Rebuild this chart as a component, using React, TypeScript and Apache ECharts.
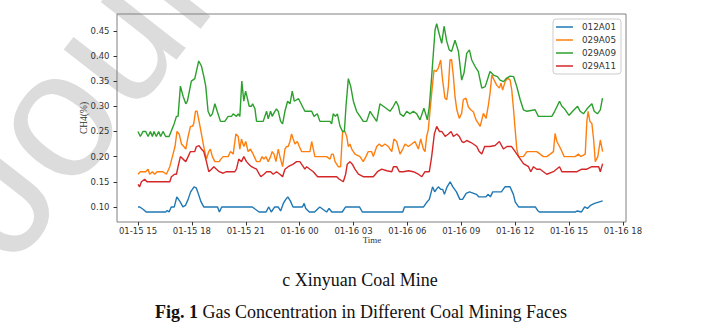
import React, { useEffect, useRef } from 'react';
import * as echarts from 'echarts';

// Hours counted from 01-15 00:00
const X_TICKS = [15, 18, 21, 24, 27, 30, 33, 36, 39, 42];
const X_TICK_LABELS = ['01-15 15', '01-15 18', '01-15 21', '01-16 00', '01-16 03', '01-16 06', '01-16 09', '01-16 12', '01-16 15', '01-16 18'];
const Y_TICKS = [0.1, 0.15, 0.2, 0.25, 0.3, 0.35, 0.4, 0.45];
const SERIES_NAMES = ['012A01', '029A05', '029A09', '029A11'];
const COLORS = ['#1f77b4', '#ff7f0e', '#2ca02c', '#d62728'];

const S_012A01: [number, number][] = [
  [15.0, 0.1], [15.1, 0.1], [15.3, 0.095], [15.45, 0.09], [16.54, 0.09], [16.63, 0.093], [16.73, 0.09], [16.85, 0.1], [17.02, 0.1],
  [17.16, 0.12], [17.35, 0.11], [17.5, 0.1], [17.64, 0.103], [17.79, 0.115], [17.93, 0.13], [18.12, 0.14], [18.24, 0.138], [18.37, 0.125],
  [18.51, 0.11], [18.66, 0.1], [19.43, 0.1], [19.53, 0.09], [19.66, 0.1], [21.36, 0.1], [21.74, 0.09], [22.13, 0.09], [22.28, 0.1],
  [22.42, 0.09], [22.61, 0.1], [22.8, 0.1], [22.94, 0.092], [23.09, 0.107], [23.23, 0.115], [23.34, 0.12], [23.48, 0.112], [23.63, 0.1],
  [24.15, 0.1], [24.25, 0.107], [24.34, 0.097], [24.54, 0.09], [24.83, 0.09], [25.12, 0.1], [25.31, 0.095], [25.5, 0.09], [25.64, 0.097],
  [25.79, 0.09], [26.37, 0.09], [26.56, 0.1], [27.33, 0.1], [27.49, 0.09], [29.74, 0.09], [29.84, 0.1], [30.9, 0.1], [31.09, 0.11],
  [31.22, 0.115], [31.4, 0.14], [31.52, 0.13], [31.61, 0.135], [31.72, 0.14], [31.85, 0.135], [31.96, 0.135], [32.06, 0.125], [32.21, 0.14],
  [32.38, 0.15], [32.53, 0.14], [32.73, 0.13], [32.92, 0.115], [33.07, 0.115], [33.27, 0.127], [33.46, 0.13], [33.84, 0.125], [33.98, 0.12],
  [34.36, 0.12], [34.5, 0.125], [34.62, 0.12], [34.75, 0.13], [35.23, 0.13], [35.43, 0.14], [35.71, 0.14], [35.9, 0.125], [36.0, 0.11],
  [36.19, 0.1], [37.12, 0.1], [37.25, 0.093], [37.35, 0.09], [39.36, 0.09], [39.46, 0.092], [39.69, 0.09], [39.87, 0.1], [40.02, 0.097],
  [40.19, 0.103], [40.42, 0.107], [40.69, 0.11], [40.87, 0.112],
];

const S_029A05: [number, number][] = [
  [15.0, 0.165], [15.13, 0.17], [15.43, 0.17], [15.56, 0.175], [15.65, 0.165], [15.8, 0.17], [15.93, 0.165], [16.06, 0.17], [16.39, 0.17],
  [16.58, 0.165], [16.77, 0.18], [16.95, 0.205], [17.06, 0.22], [17.17, 0.25], [17.29, 0.245], [17.42, 0.225], [17.55, 0.22], [17.66, 0.215],
  [17.79, 0.24], [17.92, 0.26], [18.03, 0.26], [18.1, 0.265], [18.2, 0.29], [18.29, 0.29], [18.4, 0.27], [18.53, 0.245], [18.66, 0.22],
  [18.81, 0.195], [18.94, 0.21], [19.03, 0.215], [19.14, 0.2], [19.28, 0.19], [19.52, 0.19], [19.61, 0.195], [19.74, 0.2], [20.02, 0.2],
  [20.15, 0.21], [20.3, 0.205], [20.45, 0.245], [20.58, 0.24], [20.67, 0.215], [20.76, 0.235], [20.89, 0.22], [21.0, 0.23], [21.13, 0.21],
  [21.26, 0.215], [21.41, 0.205], [21.6, 0.19], [21.78, 0.19], [21.91, 0.2], [22.01, 0.195], [22.12, 0.2], [22.25, 0.19], [22.38, 0.2],
  [22.47, 0.21], [22.57, 0.205], [22.68, 0.19], [22.81, 0.215], [22.9, 0.2], [23.05, 0.18], [23.18, 0.215], [23.27, 0.22], [23.36, 0.22],
  [23.46, 0.23], [23.55, 0.245], [23.64, 0.235], [23.74, 0.225], [23.87, 0.23], [23.98, 0.22], [24.11, 0.21], [24.39, 0.21], [24.57, 0.21],
  [24.67, 0.23], [24.76, 0.215], [24.85, 0.2], [25.13, 0.2], [25.5, 0.2], [25.69, 0.195], [25.78, 0.205], [25.87, 0.205], [25.97, 0.19],
  [26.06, 0.185], [26.15, 0.18], [26.28, 0.18], [26.39, 0.25], [26.52, 0.25], [26.62, 0.24], [26.71, 0.22], [26.8, 0.225], [26.9, 0.215],
  [27.08, 0.205], [27.36, 0.2], [27.54, 0.19], [27.69, 0.2], [27.82, 0.21], [28.0, 0.21], [28.1, 0.2], [28.29, 0.22], [28.43, 0.225],
  [28.57, 0.22], [28.75, 0.225], [28.94, 0.22], [29.13, 0.21], [29.25, 0.235], [29.4, 0.23], [29.59, 0.205], [29.74, 0.215], [29.87, 0.225],
  [30.05, 0.22], [30.24, 0.225], [30.42, 0.23], [30.61, 0.215], [30.74, 0.235], [30.89, 0.215], [30.98, 0.21], [31.07, 0.24], [31.16, 0.253],
  [31.35, 0.326], [31.48, 0.372], [31.59, 0.369], [31.72, 0.376], [31.85, 0.392], [31.96, 0.352], [32.09, 0.316], [32.19, 0.313], [32.28, 0.339],
  [32.37, 0.392], [32.46, 0.393], [32.56, 0.359], [32.65, 0.319], [32.75, 0.293], [32.89, 0.276], [33.02, 0.286], [33.11, 0.313], [33.26, 0.316],
  [33.39, 0.299], [33.52, 0.293], [33.67, 0.289], [33.82, 0.273], [33.95, 0.266], [34.05, 0.26], [34.23, 0.286], [34.38, 0.276], [34.51, 0.303],
  [34.6, 0.326], [34.7, 0.362], [34.83, 0.352], [34.97, 0.342], [35.12, 0.336], [35.21, 0.346], [35.3, 0.332], [35.44, 0.349], [35.57, 0.356],
  [35.72, 0.352], [35.81, 0.332], [35.91, 0.293], [36.0, 0.253], [36.09, 0.215], [36.19, 0.2], [36.46, 0.2], [36.65, 0.21], [36.93, 0.21],
  [37.2, 0.21], [37.39, 0.205], [37.57, 0.2], [37.76, 0.2], [37.95, 0.205], [38.13, 0.21], [38.22, 0.246], [38.32, 0.23], [38.47, 0.22],
  [38.6, 0.21], [38.73, 0.2], [39.06, 0.2], [39.34, 0.2], [39.52, 0.205], [39.65, 0.2], [39.9, 0.205], [39.99, 0.27], [40.06, 0.29],
  [40.16, 0.27], [40.27, 0.266], [40.37, 0.233], [40.46, 0.19], [40.6, 0.2], [40.74, 0.233], [40.87, 0.21],
];

const S_029A09: [number, number][] = [
  [15.0, 0.25], [15.13, 0.24], [15.28, 0.25], [15.43, 0.25], [15.56, 0.24], [15.69, 0.25], [15.8, 0.24], [15.89, 0.25], [16.02, 0.24],
  [16.15, 0.25], [16.26, 0.24], [16.39, 0.25], [16.54, 0.24], [16.73, 0.24], [17.01, 0.265], [17.14, 0.28], [17.23, 0.28], [17.36, 0.34],
  [17.51, 0.32], [17.66, 0.305], [17.75, 0.31], [17.97, 0.35], [18.16, 0.355], [18.38, 0.39], [18.53, 0.38], [18.66, 0.36], [18.77, 0.34],
  [18.9, 0.29], [19.03, 0.28], [19.14, 0.285], [19.28, 0.305], [19.41, 0.29], [19.59, 0.27], [19.83, 0.27], [20.02, 0.28], [20.2, 0.28],
  [20.3, 0.285], [20.48, 0.28], [20.58, 0.285], [20.67, 0.28], [20.78, 0.35], [20.89, 0.31], [20.99, 0.33], [21.06, 0.32], [21.19, 0.3],
  [21.32, 0.3], [21.38, 0.305], [21.51, 0.295], [21.6, 0.27], [21.97, 0.27], [22.16, 0.29], [22.25, 0.275], [22.38, 0.29], [22.47, 0.28],
  [22.62, 0.29], [22.71, 0.295], [22.81, 0.29], [22.94, 0.27], [23.05, 0.265], [23.18, 0.29], [23.33, 0.31], [23.46, 0.305], [23.59, 0.33],
  [23.7, 0.31], [23.94, 0.315], [24.01, 0.31], [24.29, 0.29], [24.67, 0.29], [24.8, 0.28], [24.98, 0.285], [25.13, 0.27], [25.69, 0.27],
  [25.78, 0.265], [25.87, 0.285], [25.99, 0.28], [26.1, 0.285], [26.25, 0.26], [26.39, 0.25], [26.49, 0.25], [26.58, 0.3], [26.71, 0.355],
  [26.84, 0.34], [26.99, 0.31], [27.17, 0.29], [27.36, 0.28], [27.54, 0.27], [27.73, 0.27], [27.92, 0.29], [28.1, 0.28], [28.29, 0.27],
  [28.47, 0.305], [28.66, 0.3], [28.85, 0.295], [29.03, 0.29], [29.22, 0.3], [29.37, 0.31], [29.5, 0.3], [29.59, 0.285], [29.78, 0.28],
  [29.96, 0.29], [30.15, 0.285], [30.33, 0.29], [30.52, 0.285], [30.7, 0.273], [30.92, 0.296], [31.11, 0.273], [31.22, 0.3], [31.35, 0.359],
  [31.54, 0.452], [31.63, 0.464], [31.78, 0.442], [31.91, 0.425], [32.04, 0.459], [32.19, 0.429], [32.33, 0.412], [32.46, 0.409], [32.65, 0.431],
  [32.84, 0.409], [33.02, 0.352], [33.15, 0.366], [33.3, 0.405], [33.45, 0.412], [33.58, 0.392], [33.77, 0.379], [33.95, 0.369], [34.14, 0.336],
  [34.33, 0.339], [34.51, 0.359], [34.6, 0.369], [34.79, 0.362], [35.01, 0.359], [35.16, 0.352], [35.35, 0.349], [35.53, 0.356], [35.72, 0.36],
  [35.91, 0.359], [36.09, 0.339], [36.28, 0.313], [36.46, 0.293], [36.65, 0.29], [37.11, 0.293], [37.29, 0.28], [38.04, 0.28], [38.2, 0.29],
  [38.47, 0.31], [38.6, 0.3], [38.75, 0.295], [39.0, 0.282], [39.2, 0.29], [39.47, 0.3], [39.62, 0.29], [39.8, 0.285], [40.0, 0.295],
  [40.27, 0.305], [40.4, 0.29], [40.58, 0.285], [40.74, 0.293], [40.86, 0.316],
];

const S_029A11: [number, number][] = [
  [15.0, 0.145], [15.09, 0.14], [15.19, 0.15], [15.37, 0.155], [15.5, 0.15], [16.77, 0.15], [16.86, 0.16], [17.04, 0.165], [17.14, 0.165],
  [17.23, 0.18], [17.36, 0.2], [17.51, 0.195], [17.66, 0.19], [17.79, 0.2], [17.92, 0.21], [18.16, 0.21], [18.25, 0.22], [18.4, 0.222],
  [18.53, 0.215], [18.66, 0.21], [18.81, 0.19], [18.94, 0.17], [19.09, 0.175], [19.22, 0.18], [19.37, 0.175], [19.52, 0.17], [19.74, 0.167],
  [19.93, 0.17], [20.39, 0.17], [20.48, 0.175], [20.61, 0.195], [20.76, 0.19], [20.89, 0.2], [21.04, 0.19], [21.17, 0.185], [21.32, 0.18],
  [21.6, 0.175], [21.75, 0.165], [21.84, 0.16], [22.01, 0.165], [22.16, 0.17], [22.38, 0.17], [22.53, 0.165], [22.71, 0.17], [22.9, 0.165],
  [23.05, 0.16], [23.18, 0.175], [23.36, 0.18], [23.64, 0.185], [23.83, 0.19], [24.01, 0.19], [24.2, 0.18], [24.29, 0.175], [24.39, 0.18],
  [24.57, 0.175], [24.76, 0.17], [25.0, 0.16], [26.06, 0.16], [26.21, 0.155], [26.43, 0.15], [26.56, 0.165], [26.65, 0.185], [26.8, 0.19],
  [26.93, 0.185], [27.08, 0.175], [27.27, 0.165], [27.54, 0.16], [28.1, 0.16], [28.33, 0.17], [28.57, 0.175], [28.85, 0.172], [29.13, 0.17],
  [29.22, 0.18], [29.4, 0.18], [29.55, 0.17], [29.78, 0.17], [30.06, 0.172], [30.33, 0.17], [30.61, 0.165], [30.8, 0.16], [30.98, 0.17],
  [31.22, 0.17], [31.35, 0.2], [31.5, 0.245], [31.63, 0.26], [31.78, 0.25], [31.91, 0.25], [32.1, 0.24], [32.28, 0.245], [32.43, 0.25],
  [32.56, 0.24], [32.75, 0.245], [32.89, 0.24], [33.03, 0.23], [33.15, 0.228], [33.3, 0.232], [33.54, 0.228], [33.67, 0.225], [33.86, 0.22],
  [34.0, 0.21], [34.14, 0.205], [34.3, 0.22], [34.6, 0.22], [34.88, 0.222], [35.12, 0.23], [35.35, 0.215], [35.54, 0.22], [35.8, 0.22],
  [36.0, 0.21], [36.19, 0.2], [36.46, 0.186], [36.74, 0.18], [36.87, 0.17], [37.02, 0.18], [37.2, 0.175], [37.39, 0.175], [37.57, 0.17],
  [37.76, 0.165], [38.13, 0.17], [38.47, 0.18], [38.6, 0.17], [39.44, 0.17], [39.71, 0.175], [39.99, 0.175], [40.27, 0.18], [40.65, 0.18],
  [40.74, 0.17], [40.87, 0.186],
];

const SERIES_DATA = [S_012A01, S_029A05, S_029A09, S_029A11];

const X_MIN = 13.83;
const X_MAX = 42.17;
const Y_MIN = 0.0701;
const Y_MAX = 0.4833;

export default function App() {
  const ref = useRef<HTMLDivElement>(null);

  useEffect(() => {
    if (!ref.current) return;
    const chart = echarts.init(ref.current, undefined, { renderer: 'svg' });
    const tickFont = { fontSize: 8.5, fontFamily: 'DejaVu Sans', color: '#333333' };
    const option: any = {
      animation: false,
      backgroundColor: '#ffffff',
      grid: {
        left: 117, right: 97, top: 14, bottom: 110,
        show: true, borderColor: '#808080', borderWidth: 1, backgroundColor: 'transparent',
      },
      xAxis: {
        type: 'value', min: X_MIN, max: X_MAX,
        splitLine: { show: false },
        axisLine: { show: false },
        axisTick: { show: true, inside: false, length: 3.5, customValues: X_TICKS, lineStyle: { color: '#333333', width: 1 } },
        axisLabel: {
          ...tickFont, margin: 4.5, customValues: X_TICKS,
          formatter: (v: number) => {
            const i = X_TICKS.findIndex((t) => Math.abs(t - v) < 1e-6);
            return i >= 0 ? X_TICK_LABELS[i] : '';
          },
        },
      },
      yAxis: {
        type: 'value', min: Y_MIN, max: Y_MAX,
        splitLine: { show: false },
        axisLine: { show: false },
        axisTick: { show: true, inside: false, length: 3.5, customValues: Y_TICKS, lineStyle: { color: '#333333', width: 1 } },
        axisLabel: { ...tickFont, margin: 7.5, customValues: Y_TICKS, formatter: (v: number) => v.toFixed(2) },
      },
      legend: {
        orient: 'vertical', left: 553, top: 19,
        icon: 'rect', itemWidth: 17, itemHeight: 1.5, itemGap: 3,
        padding: [3, 5, 3, 3],
        backgroundColor: 'rgba(255,255,255,0.8)', borderColor: '#cccccc', borderWidth: 1, borderRadius: 3,
        textStyle: { fontSize: 8.8, lineHeight: 10, fontFamily: 'DejaVu Sans', color: '#333333', padding: [0, 0, 0, 4] },
        data: SERIES_NAMES,
      },
      graphic: [
        {
          type: 'text', x: 36, y: 284, rotation: 0.9076, z: -10, silent: true,
          style: {
            text: 'Journal Pre-proof', fontSize: 180, fontFamily: 'Liberation Sans', fill: '#dcdcdc',
            textAlign: 'left', textVerticalAlign: 'bottom', align: 'left', verticalAlign: 'bottom',
          },
        },
        {
          type: 'text', x: 84, y: 118, rotation: Math.PI / 2,
          style: {
            text: 'CH4(%)', fontSize: 9.5, fontFamily: 'Liberation Serif', fill: '#333333',
            textAlign: 'center', textVerticalAlign: 'middle', align: 'center', verticalAlign: 'middle',
          },
        },
        {
          type: 'text', x: 372, y: 240,
          style: {
            text: 'Time', fontSize: 9, fontFamily: 'Liberation Serif', fill: '#333333',
            textAlign: 'center', textVerticalAlign: 'middle', align: 'center', verticalAlign: 'middle',
          },
        },
        {
          type: 'text', x: 360, y: 280,
          style: {
            text: 'c Xinyuan Coal Mine', fontSize: 18, fontFamily: 'Liberation Serif', fill: '#111111',
            textAlign: 'center', textVerticalAlign: 'middle', align: 'center', verticalAlign: 'middle',
          },
        },
        {
          type: 'text', x: 361, y: 312,
          style: {
            text: '{b|Fig. 1} Gas Concentration in Different Coal Mining Faces', fontSize: 18, fontFamily: 'Liberation Serif', fill: '#111111',
            textAlign: 'center', textVerticalAlign: 'middle', align: 'center', verticalAlign: 'middle',
            rich: { b: { fontWeight: 'bold', fontSize: 18, fontFamily: 'Liberation Serif', fill: '#111111' } },
          },
        },
      ],
      series: SERIES_NAMES.map((name, i) => ({
        name, type: 'line', data: SERIES_DATA[i], symbol: 'none', showSymbol: false,
        lineStyle: { width: 1.4, color: COLORS[i] }, itemStyle: { color: COLORS[i] },
        emphasis: { disabled: true },
      })),
    };
    chart.setOption(option);
    return () => chart.dispose();
  }, []);

  return (
    <div
      ref={ref}
      style={{ position: 'fixed', left: 0, top: 0, width: 723, height: 332, background: '#ffffff' }}
    />
  );
}
